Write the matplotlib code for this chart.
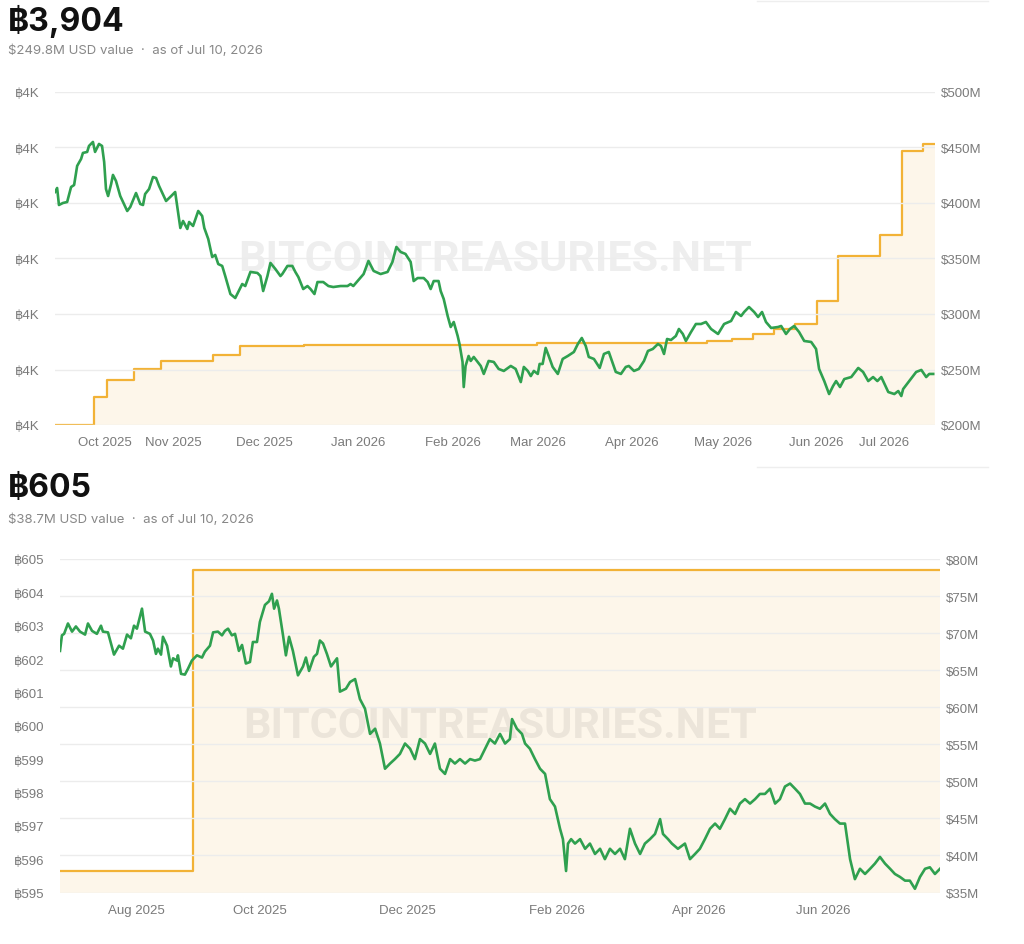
import matplotlib
matplotlib.use('Agg')
import matplotlib.pyplot as plt
import matplotlib.transforms as mtransforms
from matplotlib.lines import Line2D
from matplotlib.ticker import FuncFormatter
import pandas as pd

plt.rcParams['font.family'] = ['Liberation Sans', 'DejaVu Sans']

# ---- chart 1: holdings (left, BTC) and USD value (right, $M) ----
top_start = '2025-09-23'
top_end_day = 290
top_title = '฿3,904'
top_sub = '$249.8M USD value  ·  as of Jul 10, 2026'

top_hold_days = [0, 13, 17, 26, 35, 52, 61, 82, 159, 215, 223, 230, 237, 244,
                 251, 258, 272, 279, 286, 290]
top_hold_btc = [3600, 3630, 3649, 3661, 3669, 3676, 3685, 3687, 3689, 3691, 3693,
                3698, 3704, 3709, 3734, 3783, 3805, 3896, 3904, 3904]

top_val_days = [
    0, 0.7, 1.3, 2.6, 4.0, 5.3, 6.3, 7.3, 8.6, 9.2,
    10.6, 11.2, 12.5, 13.2, 14.5, 15.5, 16.2, 16.8, 17.5, 18.5,
    19.1, 20.1, 21.5, 23.8, 24.8, 26.7, 28.1, 29.0, 29.7, 31.0,
    32.3, 33.3, 34.3, 36.6, 38.3, 39.6, 41.3, 42.2, 43.6, 44.2,
    45.5, 47.2, 48.5, 49.2, 50.5, 51.8, 52.8, 53.8, 55.1, 56.1,
    57.8, 59.4, 60.4, 61.7, 62.7, 64.4, 66.7, 67.7, 68.6, 70.0,
    71.0, 72.6, 74.3, 74.9, 76.6, 78.2, 79.2, 80.2, 81.8, 83.2,
    84.2, 85.5, 86.5, 88.4, 90.1, 91.7, 94.1, 96.4, 97.4, 98.3,
    99.7, 101.7, 103.3, 105.0, 107.3, 109.6, 111.2, 112.5, 113.9, 115.5,
    117.2, 118.2, 119.5, 121.5, 122.8, 123.8, 124.8, 126.4, 127.1, 128.1,
    129.4, 130.4, 131.4, 132.7, 133.3, 134.3, 134.7, 135.3, 136.3, 137.0,
    138.0, 140.3, 141.3, 142.9, 144.6, 146.2, 147.9, 150.2, 151.8, 153.5,
    154.5, 155.8, 156.8, 157.8, 159.1, 159.7, 160.7, 161.7, 162.7, 164.0,
    165.7, 167.3, 169.0, 171.0, 172.3, 173.6, 174.9, 175.9, 177.6, 179.5,
    180.9, 182.5, 184.8, 186.5, 188.1, 189.1, 190.8, 192.4, 194.1, 195.4,
    197.0, 198.7, 199.7, 200.7, 201.7, 203.0, 204.6, 205.6, 206.9, 207.9,
    209.6, 211.2, 212.9, 214.5, 216.2, 218.5, 220.5, 222.8, 224.4, 226.1,
    227.1, 228.7, 230.4, 231.7, 233.0, 234.3, 236.0, 238.3, 239.3, 240.9,
    242.2, 243.6, 245.2, 246.9, 249.2, 250.8, 251.8, 253.5, 255.1, 256.4,
    257.4, 258.7, 260.1, 262.4, 264.7, 266.3, 268.0, 269.6, 271.0, 272.3,
    274.6, 276.6, 277.9, 278.9, 279.5, 281.5, 283.8, 285.5, 287.1, 288.1, 289.4]
top_val_usd = [
    409.9, 413.5, 398.2, 400.0, 400.9, 414.4, 416.2, 433.4, 439.7, 445.1,
    446.0, 451.4, 455.0, 446.0, 453.2, 451.4, 437.0, 412.6, 406.3, 417.1,
    425.3, 419.8, 406.3, 392.8, 396.4, 409.0, 399.1, 398.2, 408.1, 412.6,
    423.4, 422.5, 415.3, 401.8, 406.3, 409.9, 377.5, 383.8, 376.6, 382.9,
    379.3, 392.8, 388.3, 377.5, 367.6, 351.4, 353.2, 345.0, 343.3, 334.2,
    318.0, 314.4, 319.8, 327.0, 325.2, 337.9, 337.0, 334.2, 320.7, 334.2,
    346.0, 340.6, 334.2, 336.0, 343.3, 343.3, 337.9, 333.3, 322.5, 325.2,
    322.5, 318.0, 328.8, 328.8, 325.2, 324.3, 325.2, 325.2, 327.0, 325.2,
    329.7, 336.0, 347.8, 338.8, 336.0, 337.9, 346.9, 360.4, 355.9, 354.1,
    346.9, 329.7, 332.4, 332.4, 328.8, 322.5, 329.7, 329.7, 320.7, 313.5,
    298.2, 288.3, 292.8, 280.2, 273.0, 256.8, 234.2, 253.2, 262.2, 257.7,
    261.3, 253.2, 246.0, 257.7, 256.8, 250.5, 248.7, 253.2, 250.5, 238.7,
    252.3, 248.7, 244.1, 248.7, 246.0, 255.0, 255.0, 269.4, 262.2, 252.3,
    246.0, 259.5, 262.2, 265.8, 273.0, 278.4, 271.2, 261.3, 259.5, 251.4,
    264.0, 265.8, 247.8, 246.0, 252.3, 253.2, 248.7, 250.5, 257.7, 266.7,
    268.5, 273.0, 271.2, 264.0, 277.5, 276.6, 280.2, 286.5, 282.0, 275.7,
    283.8, 291.0, 291.0, 292.8, 286.5, 282.0, 291.0, 293.7, 301.8, 298.2,
    301.8, 306.3, 301.8, 297.3, 301.8, 292.8, 287.4, 288.3, 289.2, 282.0,
    286.5, 289.2, 283.8, 275.7, 274.8, 268.5, 250.5, 239.6, 227.9, 235.1,
    239.6, 234.2, 241.4, 243.2, 251.4, 247.8, 239.6, 243.2, 239.6, 243.2,
    229.7, 227.9, 230.6, 226.1, 232.4, 239.6, 247.8, 249.6, 243.2, 246.0, 246.0]

top_btc_ticks = [3600, 3660, 3720, 3780, 3840, 3900, 3960]
top_usd_ticks = [200, 250, 300, 350, 400, 450, 500]
top_xticks = ['2025-10-01', '2025-11-01', '2025-12-01', '2026-01-01', '2026-02-01',
              '2026-03-01', '2026-04-01', '2026-05-01', '2026-06-01', '2026-07-01']

# ---- chart 2 ----
bot_start = '2025-07-10'
bot_end_day = 365
bot_title = '฿605'
bot_sub = '$38.7M USD value  ·  as of Jul 10, 2026'

bot_hold_days = [0, 55, 365]
bot_hold_btc = [595.65, 604.68, 604.68]

bot_val_days = [
    0, 0.8, 1.7, 3.3, 5.0, 6.6, 8.3, 10.4, 11.6, 13.3,
    15.3, 17.0, 17.8, 19.9, 22.4, 24.5, 26.1, 27.8, 29.4, 30.7,
    31.9, 34.0, 35.3, 37.3, 38.6, 39.8, 40.6, 41.9, 42.7, 44.4,
    46.0, 46.9, 48.5, 48.9, 50.2, 51.8, 53.1, 54.7, 56.8, 58.9,
    60.1, 62.2, 63.5, 65.5, 67.2, 68.4, 69.7, 71.3, 72.6, 74.2,
    75.5, 77.1, 78.8, 80.0, 81.7, 82.9, 85.0, 86.7, 87.9, 88.8,
    90.0, 90.8, 92.5, 93.7, 95.0, 96.6, 98.7, 100.8, 102.0, 103.3,
    105.3, 106.6, 107.8, 109.1, 110.7, 112.4, 114.9, 116.1, 118.6, 120.3,
    122.4, 124.4, 126.5, 128.6, 130.7, 132.7, 134.8, 136.9, 138.9, 141.0,
    143.1, 145.2, 147.2, 149.3, 151.4, 153.5, 155.5, 157.6, 159.7, 161.8,
    163.8, 165.9, 168.0, 170.1, 172.1, 174.2, 176.3, 178.3, 180.4, 182.5,
    184.6, 186.6, 187.5, 189.5, 191.6, 192.9, 194.9, 197.0, 199.1, 201.2,
    203.2, 205.3, 207.4, 208.6, 209.9, 210.7, 212.0, 213.6, 215.7, 217.8,
    219.8, 221.9, 224.0, 226.0, 228.1, 230.2, 232.3, 234.3, 236.4, 238.5,
    240.6, 242.6, 244.7, 246.8, 248.9, 250.1, 252.2, 253.8, 256.3, 259.2,
    261.3, 263.4, 265.4, 267.5, 269.6, 271.7, 273.7, 275.8, 277.9, 280.0,
    282.0, 284.1, 286.2, 288.3, 290.3, 292.4, 294.5, 296.6, 298.6, 300.7,
    302.8, 304.9, 306.9, 309.0, 311.1, 313.1, 315.2, 317.3, 319.4, 321.4,
    323.5, 325.6, 327.7, 329.7, 331.8, 333.9, 336.0, 338.0, 340.1, 342.2,
    344.3, 346.3, 348.4, 350.5, 352.5, 354.6, 356.7, 358.8, 360.8, 362.9, 365.0]
bot_val_usd = [
    67.6, 69.7, 69.9, 71.3, 70.2, 70.9, 70.2, 69.8, 71.3, 70.3,
    69.9, 71.0, 70.2, 70.1, 67.1, 68.3, 67.9, 69.8, 69.3, 71.0,
    70.6, 73.3, 70.2, 69.9, 69.0, 67.2, 67.9, 67.1, 69.5, 68.3,
    65.5, 66.6, 66.3, 67.0, 64.5, 64.4, 65.2, 66.3, 67.0, 66.7,
    67.5, 68.3, 70.1, 70.2, 69.7, 70.3, 70.6, 69.7, 69.9, 67.6,
    68.4, 65.9, 66.1, 68.8, 68.8, 71.5, 73.8, 74.3, 75.3, 73.3,
    74.4, 73.3, 69.7, 67.0, 69.5, 67.6, 64.3, 65.5, 66.7, 64.9,
    66.8, 67.2, 69.0, 68.6, 67.2, 65.5, 66.6, 62.1, 62.5, 63.4,
    63.8, 61.1, 59.8, 56.4, 57.1, 55.1, 51.7, 52.4, 53.0, 53.7,
    55.1, 54.4, 53.0, 55.7, 55.1, 53.7, 55.1, 51.7, 51.0, 53.0,
    52.4, 53.0, 52.4, 53.0, 52.8, 53.0, 54.4, 55.7, 55.1, 56.4,
    55.1, 55.7, 58.4, 57.1, 56.4, 55.1, 54.4, 53.0, 51.7, 51.0,
    47.6, 46.6, 43.6, 42.2, 37.9, 41.6, 42.2, 41.6, 42.2, 40.9,
    41.6, 40.2, 40.9, 39.5, 40.9, 40.2, 40.9, 39.5, 43.6, 41.6,
    40.2, 41.6, 42.2, 42.9, 44.9, 42.9, 42.2, 41.6, 40.9, 41.6,
    39.5, 40.2, 40.9, 42.2, 43.6, 44.3, 43.6, 44.9, 46.3, 45.6,
    47.0, 47.6, 47.0, 47.6, 48.3, 48.3, 49.0, 47.0, 47.6, 49.3,
    49.7, 49.0, 48.3, 47.0, 47.0, 46.6, 46.3, 47.0, 45.6, 44.9,
    44.3, 44.3, 39.5, 36.8, 38.2, 37.5, 38.2, 38.9, 39.8, 38.9,
    38.2, 37.5, 37.1, 36.6, 36.6, 35.5, 37.1, 38.2, 38.4, 37.5, 38.2]

bot_btc_ticks = list(range(595, 606))
bot_usd_ticks = list(range(35, 81, 5))
bot_xticks = ['2025-08-01', '2025-10-01', '2025-12-01', '2026-02-01',
              '2026-04-01', '2026-06-01']

GREEN = '#2fa04f'
ORANGE = '#f2b236'
FILL = '#fdf6ea'
GRID = '#ececec'
LABEL = '#7a7a7a'

W, H = 1024, 945
fig = plt.figure(figsize=(W / 100, H / 100), dpi=100)


def to_dates(start, days):
    return pd.Timestamp(start) + pd.to_timedelta(days, unit='D')


def draw_panel(rect, start, end_day, hold_days, hold_btc, val_days, val_usd,
               btc_ticks, btc_fmt, usd_ticks, xticks, edge_shift, pad_left):
    ax = fig.add_axes(rect)
    axr = ax.twinx()
    hd = to_dates(start, hold_days)
    vd = to_dates(start, val_days)

    ax.fill_between(hd, hold_btc, btc_ticks[0], step='post', color=FILL,
                    lw=0, zorder=1)
    ax.step(hd, hold_btc, where='post', color=ORANGE, lw=1.6, zorder=3)
    axr.plot(vd, val_usd, color=GREEN, lw=1.9, zorder=4,
             solid_joinstyle='round')

    ax.set_xlim(pd.Timestamp(start), to_dates(start, end_day))
    ax.set_ylim(btc_ticks[0], btc_ticks[-1])
    axr.set_ylim(usd_ticks[0], usd_ticks[-1])
    ax.set_yticks(btc_ticks)
    axr.set_yticks(usd_ticks)
    ax.yaxis.set_major_formatter(FuncFormatter(btc_fmt))
    axr.yaxis.set_major_formatter(FuncFormatter(lambda v, p: f'${v:.0f}M'))

    xt = [pd.Timestamp(t) for t in xticks]
    ax.set_xticks(xt, [t.strftime('%b %Y') for t in xt])

    for a in (ax, axr):
        for s in a.spines.values():
            s.set_visible(False)
    ax.tick_params(axis='y', length=0, pad=pad_left, labelsize=9.5,
                   labelcolor=LABEL)
    axr.tick_params(axis='y', length=0, pad=4, labelsize=9.5, labelcolor=LABEL)
    ax.tick_params(axis='x', length=0, pad=8, labelsize=9.5, labelcolor=LABEL)
    axr.grid(axis='y', color=GRID, lw=1, zorder=0)
    ax.set_zorder(axr.get_zorder() - 1)
    axr.set_zorder(ax.get_zorder() + 1)
    ax.patch.set_visible(False)

    # edge month labels sit inward, as in the reference
    labels = ax.get_xticklabels()
    labels[0].set_transform(labels[0].get_transform() +
                            mtransforms.ScaledTranslation(edge_shift[0] / 100, 0,
                                                          fig.dpi_scale_trans))
    labels[-1].set_transform(labels[-1].get_transform() +
                             mtransforms.ScaledTranslation(edge_shift[1] / 100, 0,
                                                           fig.dpi_scale_trans))

    # watermark above the fill, below the lines
    ax.text(0.5, 0.5, 'BITCOINTREASURIES.NET', transform=ax.transAxes,
            ha='center', va='center', fontsize=31, fontweight='bold',
            family=['Roboto', 'DejaVu Sans'],
            color='black', alpha=0.065, zorder=2)
    return ax, axr


draw_panel([55 / W, 1 - 426 / H, 880 / W, 333 / H], top_start, top_end_day,
           top_hold_days, top_hold_btc, top_val_days, top_val_usd,
           top_btc_ticks, lambda v, p: f'฿{v / 1000:.0f}K', top_usd_ticks,
           top_xticks, (26, -24), 11)

draw_panel([60 / W, 1 - 893.5 / H, 880 / W, 333.5 / H], bot_start, bot_end_day,
           bot_hold_days, bot_hold_btc, bot_val_days, bot_val_usd,
           bot_btc_ticks, lambda v, p: f'฿{v:.0f}', bot_usd_ticks,
           bot_xticks, (23, -23), 11)

head = ['Inter', 'DejaVu Sans']
fig.text(8 / W, 1 - 31 / H, top_title, fontsize=23, fontweight='bold',
         color='#111111', family=head, va='baseline')
fig.text(8 / W, 1 - 54 / H, top_sub, fontsize=9.5, color='#888888',
         family=head, va='baseline')
fig.text(8 / W, 1 - 497 / H, bot_title, fontsize=23, fontweight='bold',
         color='#111111', family=head, va='baseline')
fig.text(8 / W, 1 - 523 / H, bot_sub, fontsize=9.5, color='#888888',
         family=head, va='baseline')

# faint card edges on the right
fig.add_artist(Line2D([757 / W, 988 / W], [1 - 2 / H] * 2, color='#eeeeee', lw=1))
fig.add_artist(Line2D([757 / W, 988 / W], [1 - 468 / H] * 2, color='#eeeeee', lw=1))

fig.savefig('out.png', dpi=100)
